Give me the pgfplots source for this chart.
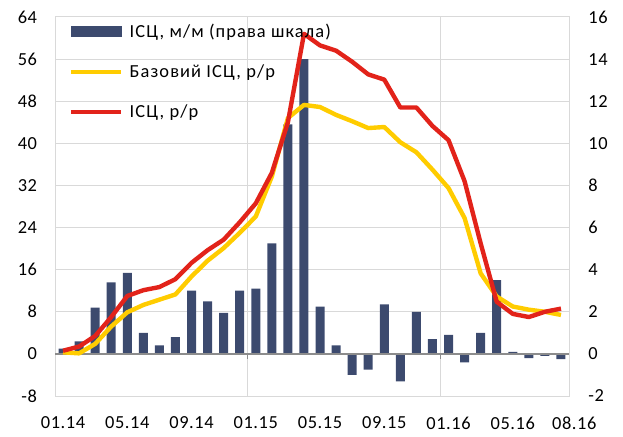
\documentclass[border=0pt]{standalone}
\usepackage{pgfplots}
\pgfplotsset{compat=1.18}
\usepackage{fontspec}
\setmainfont[LetterSpace=6]{Carlito}
\newfontfamily\tickfont[LetterSpace=3]{Carlito}
\definecolor{barc}{HTML}{3C4A6E}
\definecolor{yel}{HTML}{FFCC00}
\definecolor{redc}{HTML}{E2231A}
\definecolor{gridc}{HTML}{D9D9D9}
\definecolor{zeroc}{HTML}{8C8C8C}
\begin{document}
\begin{tikzpicture}[font=\fontsize{13.8}{16}\selectfont]
\begin{axis}[name=ax1, scale only axis, width=385.5pt, height=284.25pt,
  xmin=-0.5, xmax=31.5, ymin=-2, ymax=16,
  axis line style={draw=gridc, line width=0.75pt},
  ytick={-2,0,...,16}, yticklabel pos=right,
  ymajorgrids, grid style={draw=gridc, line width=0.75pt},
  major tick length=0pt,
  xtick={0,4,8,12,16,20,24,28,31},
  xticklabels={01.14,05.14,09.14,01.15,05.15,09.15,01.16,05.16,\hspace*{20pt}08.16},
  extra x ticks={11.5,23.5}, extra x tick labels={},
  extra x tick style={grid=major},
  /pgf/number format/assume math mode=true,
  tick label style={font=\tickfont\fontsize{13.8}{16}\selectfont},
  yticklabel style={xshift=11pt},
  xticklabel style={yshift=-12pt},
  ybar, bar width=6.75pt,
]
\addplot[fill=barc, draw=none] coordinates {
(0,0.25) (1,0.6) (2,2.2) (3,3.4) (4,3.85) (5,1.0) (6,0.4) (7,0.8)
(8,3.0) (9,2.5) (10,1.95) (11,3.0) (12,3.1) (13,5.25) (14,10.9) (15,14.0)
(16,2.25) (17,0.4) (18,-1.0) (19,-0.75) (20,2.35) (21,-1.3) (22,2.0) (23,0.7)
(24,0.9) (25,-0.4) (26,1.0) (27,3.5) (28,0.1) (29,-0.2) (30,-0.1) (31,-0.25)};
\draw[zeroc, line width=1.1pt] (axis cs:-0.5,0) -- (axis cs:31.5,0);
\draw[zeroc, line width=1.1pt] (axis cs:11.5,0) -- ++(0pt,-4pt);
\draw[zeroc, line width=1.1pt] (axis cs:23.5,0) -- ++(0pt,-4pt);
\end{axis}
\begin{axis}[at={(ax1.south west)}, anchor=south west,
  scale only axis, width=385.5pt, height=284.25pt,
  xmin=-0.5, xmax=31.5, ymin=-8, ymax=64,
  axis line style={draw=none}, xtick=\empty,
  ytick={-8,0,...,64}, yticklabel pos=left,
  major tick length=0pt,
  /pgf/number format/assume math mode=true,
  tick label style={font=\tickfont\fontsize{13.8}{16}\selectfont},
  yticklabel style={xshift=-10pt},
  legend cell align=left,
  legend style={at={(rel axis cs:0,1)}, anchor=north west, xshift=7pt, yshift=-1pt,
    draw=none, fill=none, row sep=15pt, font=\fontsize{13.8}{16}\selectfont,
    /tikz/every odd column/.append style={column sep=3pt}},
  legend image code/.code={\draw[#1] (0pt,0pt) -- (37.5pt,0pt);},
]
\addlegendimage{legend image code/.code={\fill[barc] (0pt,-3.75pt) rectangle (37.5pt,3.75pt);}}
\addlegendentry{ІСЦ, м/м (права шкала)}
\addplot[yel, line width=3.3pt, line join=round] coordinates {
(0,0.3) (1,0.1) (2,1.9) (3,5.2) (4,7.9) (5,9.3) (6,10.3) (7,11.3)
(8,14.7) (9,17.7) (10,20.1) (11,23.0) (12,26.1) (13,33.7) (14,44.8) (15,47.3)
(16,46.9) (17,45.4) (18,44.2) (19,42.9) (20,43.1) (21,40.2) (22,38.3) (23,35.0)
(24,31.5) (25,25.8) (26,15.3) (27,10.9) (28,9.0) (29,8.4) (30,8.0) (31,7.4)};
\addlegendentry{Базовий ІСЦ, р/р}
\addplot[redc, line width=3.3pt, line join=round] coordinates {
(0,0.6) (1,1.4) (2,3.4) (3,7.0) (4,11.0) (5,12.1) (6,12.7) (7,14.2)
(8,17.3) (9,19.7) (10,21.7) (11,25.0) (12,28.6) (13,34.4) (14,44.0) (15,60.8)
(16,58.6) (17,57.6) (18,55.5) (19,53.1) (20,52.1) (21,46.8) (22,46.8) (23,43.3)
(24,40.6) (25,32.8) (26,21.0) (27,9.9) (28,7.6) (29,7.0) (30,8.0) (31,8.6)};
\addlegendentry{ІСЦ, р/р}
\end{axis}
\path ([xshift=-41.25pt,yshift=-30pt]ax1.south west) rectangle ([xshift=40.5pt,yshift=12.75pt]ax1.north east);
\end{tikzpicture}
\end{document}
